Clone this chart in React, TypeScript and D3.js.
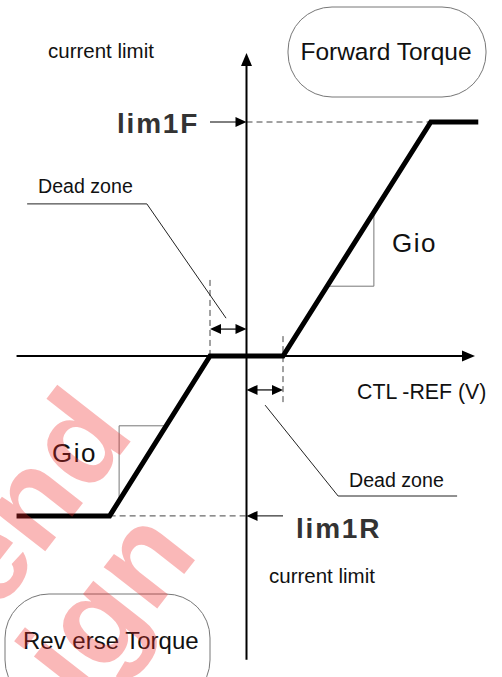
import React from "react";
import * as d3 from "d3";

// ---- data (diagram units) ----
const curveX = [-6.3, -3.75, -1, 1, 5.05, 6.35];
const curveY = [-4.1, -4.1, 0, 0, 6, 6];
const deadZone = [-1, 1];
const limitLabels = ["lim1F", "lim1R"];
const limitValues = [6, -4.1];
const slopeLabel = "Gio";
const gioLevels = [1.79, -1.79];
const gioXs = [3.49, -3.49];
const leaderUpperX = [-6.01, -2.73, -0.56];
const leaderUpperY = [3.9, 3.9, 0.97];
const leaderLowerX = [0.51, 2.51, 5.77];
const leaderLowerY = [-1.26, -3.59, -3.59];

const W = 502;
const H = 677;
const x = d3.scaleLinear().domain([0, 1]).range([246.5, 283]);
const y = d3.scaleLinear().domain([0, 1]).range([356, 317]);

const FONT = "'Liberation Sans', Arial, sans-serif";

function curveAtX(v: number) {
  for (let i = 0; i < curveX.length - 1; i++) {
    if (v >= curveX[i] && v <= curveX[i + 1]) {
      const t = (v - curveX[i]) / (curveX[i + 1] - curveX[i]);
      return curveY[i] + t * (curveY[i + 1] - curveY[i]);
    }
  }
  return 0;
}
function curveAtY(v: number, side: number) {
  const i = side > 0 ? 3 : 1;
  const t = (v - curveY[i]) / (curveY[i + 1] - curveY[i]);
  return curveX[i] + t * (curveX[i + 1] - curveX[i]);
}

const line = d3
  .line<[number, number]>()
  .x((d) => x(d[0]))
  .y((d) => y(d[1]));

function tri(tipX: number, tipY: number, dir: "up" | "down" | "left" | "right", len: number, half: number) {
  let pts: [number, number][] = [];
  if (dir === "up") pts = [[tipX, tipY], [tipX - half, tipY + len], [tipX + half, tipY + len]];
  if (dir === "down") pts = [[tipX, tipY], [tipX - half, tipY - len], [tipX + half, tipY - len]];
  if (dir === "left") pts = [[tipX, tipY], [tipX + len, tipY - half], [tipX + len, tipY + half]];
  if (dir === "right") pts = [[tipX, tipY], [tipX - len, tipY - half], [tipX - len, tipY + half]];
  return "M" + pts.map((p) => p.join(",")).join("L") + "Z";
}

export default function App() {
  const x0 = x(0);
  const y0 = y(0);
  const axisTop = y(7.77);
  const axisBottom = y(-7.79);
  const axisLeft = x(-6.3);
  const axisRight = x(6.26);

  const curvePts: [number, number][] = curveX.map((v, i) => [v, curveY[i]]);

  const gioUpperStartX = curveAtY(gioLevels[0], 1);
  const gioUpper: [number, number][] = [
    [gioUpperStartX, gioLevels[0]],
    [gioXs[0], gioLevels[0]],
    [gioXs[0], curveAtX(gioXs[0])],
  ];
  const gioLowerStartX = curveAtY(gioLevels[1], -1);
  const gioLower: [number, number][] = [
    [gioLowerStartX, gioLevels[1]],
    [gioXs[1], gioLevels[1]],
    [gioXs[1], curveAtX(gioXs[1])],
  ];

  const leaderU: [number, number][] = leaderUpperX.map((v, i) => [v, leaderUpperY[i]]);
  const leaderL: [number, number][] = leaderLowerX.map((v, i) => [v, leaderLowerY[i]]);

  const dzL = x(deadZone[0]);
  const dzR = x(deadZone[1]);
  const dblUpY = y(0.69);
  const dblLoY = y(-0.87);

  const limFy = y(limitValues[0]);
  const limRy = y(limitValues[1]);

  return (
    <svg
      width={W}
      height={H}
      viewBox={`0 0 ${W} ${H}`}
      style={{ position: "absolute", left: 0, top: 0, background: "#fff" }}
      fontFamily={FONT}
    >
      <rect x={0} y={0} width={W} height={H} fill="#fff" />

      {/* boxes */}
      <rect x={288} y={7} width={198} height={90} rx={44} ry={44} fill="none" stroke="#777" strokeWidth={1} />
      <text x={386} y={60} fontSize={24.5} textAnchor="middle" fill="#111">
        Forward Torque
      </text>
      <rect x={5} y={594} width={205} height={110} rx={44} ry={44} fill="none" stroke="#777" strokeWidth={1} />
      <text x={23} y={649} fontSize={24} fill="#111">
        Rev erse Torque
      </text>

      {/* labels */}
      <text x={48} y={58} fontSize={20.5} fill="#111">
        current limit
      </text>
      <text x={269} y={583} fontSize={20.5} fill="#111">
        current limit
      </text>
      <text x={38} y={193} fontSize={19.6} fill="#111">
        Dead zone
      </text>
      <text x={349} y={487} fontSize={19.6} fill="#111">
        Dead zone
      </text>
      <text x={357} y={399} fontSize={21.3} fill="#111">
        CTL -REF (V)
      </text>
      <text x={392} y={252} fontSize={26} fill="#111" letterSpacing={1.5}>
        {slopeLabel}
      </text>
      <text x={52} y={462} fontSize={26} fill="#111" letterSpacing={1.5}>
        {slopeLabel}
      </text>
      <text x={117} y={133} fontSize={28} fontWeight="bold" fill="#333" letterSpacing={1.8}>
        {limitLabels[0]}
      </text>
      <text x={296} y={538} fontSize={28} fontWeight="bold" fill="#333" letterSpacing={1.8}>
        {limitLabels[1]}
      </text>

      {/* dashed guide lines */}
      <g stroke="#444" strokeWidth={1} strokeDasharray="6,4" fill="none">
        <line x1={x0} x2={x(curveX[4])} y1={limFy} y2={limFy} />
        <line x1={x(curveX[1])} x2={x0} y1={limRy} y2={limRy} />
        <line x1={dzL} x2={dzL} y1={y(1.95)} y2={y0} />
        <line x1={dzR} x2={dzR} y1={y(0.51)} y2={y(-1.26)} />
      </g>

      {/* Gio triangles */}
      <path d={line(gioUpper) || ""} fill="none" stroke="#777" strokeWidth={1} />
      <path d={line(gioLower) || ""} fill="none" stroke="#777" strokeWidth={1} />

      {/* leader lines */}
      <path d={line(leaderU) || ""} fill="none" stroke="#222" strokeWidth={1} />
      <path d={line(leaderL) || ""} fill="none" stroke="#222" strokeWidth={1} />

      {/* axes */}
      <line x1={axisLeft} x2={axisRight - 8} y1={y0} y2={y0} stroke="#000" strokeWidth={2} />
      <path d={tri(axisRight, y0, "right", 13, 5.5)} fill="#000" />
      <line x1={x0} x2={x0} y1={axisTop + 8} y2={axisBottom} stroke="#000" strokeWidth={2} />
      <path d={tri(x0, axisTop, "up", 13, 5.5)} fill="#000" />

      {/* limit arrows */}
      <line x1={dzL} x2={x0 - 8} y1={limFy} y2={limFy} stroke="#000" strokeWidth={1} />
      <path d={tri(x0, limFy, "right", 11, 5)} fill="#000" />
      <line x1={dzR} x2={x0 + 8} y1={limRy} y2={limRy} stroke="#000" strokeWidth={1} />
      <path d={tri(x0, limRy, "left", 11, 5)} fill="#000" />

      {/* dead zone double arrows */}
      <line x1={dzL + 6} x2={x0 - 6} y1={dblUpY} y2={dblUpY} stroke="#000" strokeWidth={1.2} />
      <path d={tri(dzL, dblUpY, "left", 11, 5)} fill="#000" />
      <path d={tri(x0, dblUpY, "right", 11, 5)} fill="#000" />
      <line x1={x0 + 6} x2={dzR - 6} y1={dblLoY} y2={dblLoY} stroke="#000" strokeWidth={1.2} />
      <path d={tri(x0, dblLoY, "left", 11, 5)} fill="#000" />
      <path d={tri(dzR, dblLoY, "right", 11, 5)} fill="#000" />

      {/* characteristic curve */}
      <path d={line(curvePts) || ""} fill="none" stroke="#000" strokeWidth={5} strokeLinejoin="miter" />

      {/* watermark */}
      <g fill="rgb(240,40,40)" fillOpacity={0.33} fontWeight="bold" fontSize={128} fontFamily={FONT}>
        <text x={136} y={435} textAnchor="end" transform="rotate(-52 136 435)">
          end
        </text>
        <text x={200} y={554} textAnchor="end" transform="rotate(-52 200 554)">
          sign
        </text>
      </g>
    </svg>
  );
}
